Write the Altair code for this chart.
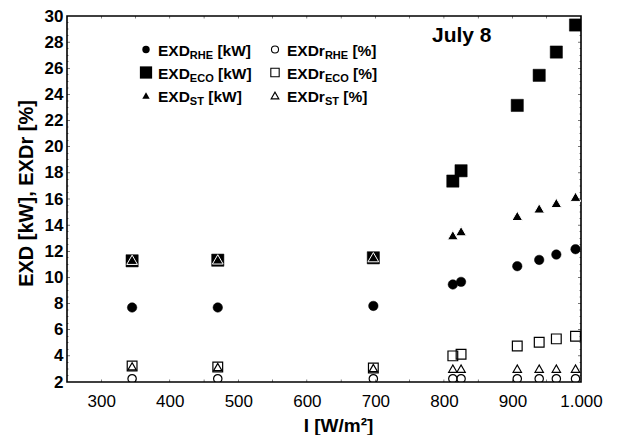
import altair as alt
import pandas as pd

# ---------------- data ----------------
irradiance = [345, 470, 697, 813, 825, 907, 939, 964, 992]
exd_rhe = [7.70, 7.70, 7.82, 9.46, 9.66, 10.86, 11.34, 11.75, 12.16]
exd_eco = [11.27, 11.32, 11.50, 17.37, 18.16, 23.16, 25.46, 27.24, 29.31]
exd_st = [11.35, 11.38, 11.55, 13.23, 13.54, 14.71, 15.28, 15.70, 16.17]
exdr_rhe = [2.25, 2.25, 2.25, 2.25, 2.25, 2.25, 2.25, 2.25, 2.25]
exdr_eco = [3.23, 3.15, 3.07, 4.00, 4.12, 4.76, 5.04, 5.30, 5.50]
exdr_st = [3.20, 3.15, 3.07, 3.02, 3.02, 3.02, 3.02, 3.02, 3.02]

x_major = [300, 400, 500, 600, 700, 800, 900, 1000]
x_ticks = [300, 350, 400, 450, 500, 550, 600, 650, 700, 750, 800, 850, 900, 950]
y_major = [4, 6, 8, 10, 12, 14, 16, 18, 20, 22, 24, 26, 28]
y_labels = [2, 4, 6, 8, 10, 12, 14, 16, 18, 20, 22, 24, 26, 28, 30]
y_minor = [v / 2 for v in range(5, 60) if v % 4 != 0]
x_range = [250, 1000]
y_range = [2, 30]

FONT = "Liberation Sans"
W, H = 514, 366

xscale = alt.Scale(domain=x_range, nice=False, zero=False)
yscale = alt.Scale(domain=y_range, nice=False, zero=False)

X_AXIS = alt.Axis(
    orient="bottom", values=x_major, ticks=False, domain=False, grid=False,
    labelExpr="datum.value == 1000 ? '1.000' : datum.label",
    labelFont=FONT, labelFontSize=17, labelColor="black", labelPadding=11,
    labelFlush=False,
    title="I  [W/m²]", titleFont=FONT, titleFontSize=19, titleFontWeight="bold",
    titleColor="black", titleX=271, titleY=49, titleBaseline="alphabetic",
    titleAlign="center",
)
Y_AXIS = alt.Axis(
    orient="left", values=y_labels, ticks=False, domain=False, grid=False,
    labelFont=FONT, labelFontSize=17, labelFontWeight="bold", labelColor="black",
    labelPadding=4, labelFlush=False,
    title="EXD [kW], EXDr [%]", titleFont=FONT, titleFontSize=20,
    titleFontWeight="bold", titleColor="black", titleAngle=-90,
    titleX=-35, titleY=177, titleBaseline="alphabetic", titleAlign="center",
)


def xenc(field):
    return alt.X(field, type="quantitative", scale=xscale, axis=X_AXIS)


def yenc(field):
    return alt.Y(field, type="quantitative", scale=yscale, axis=Y_AXIS)


def frame(xs, ys):
    return pd.DataFrame({"I": xs, "v": ys})


def series(vals, shape, filled, size, stroke="black", sw=1.2):
    return alt.Chart(frame(irradiance, vals)).mark_point(
        shape=shape, filled=filled, size=size, opacity=1,
        color="black", stroke=stroke, strokeWidth=sw, clip=True,
    ).encode(x=xenc("I"), y=yenc("v"))


# ---------------- inward tick marks: thin filled bars anchored on the frame ----------------
UP = "M-0.1,-1L0.1,-1L0.1,0L-0.1,0Z"      # grows upward from its anchor
DOWN = "M-0.1,0L0.1,0L0.1,1L-0.1,1Z"      # grows downward
RIGHT = "M0,-0.09L1,-0.09L1,0.09L0,0.09Z"  # grows rightward
LEFT = "M-1,-0.09L0,-0.09L0,0.09L-1,0.09Z" # grows leftward
RIGHT_S = "M0,-0.17L1,-0.17L1,0.17L0,0.17Z"
LEFT_S = "M-1,-0.17L0,-0.17L0,0.17L-1,0.17Z"


def tick_layer(xs, ys, path, length):
    return alt.Chart(frame(xs, ys)).mark_point(
        shape=path, filled=True, size=length * length, opacity=1,
        color="black", strokeWidth=0,
    ).encode(x=xenc("I"), y=yenc("v"))


tick_layers = [
    tick_layer(x_ticks, [y_range[0]] * len(x_ticks), UP, 5),
    tick_layer(x_ticks, [y_range[1]] * len(x_ticks), DOWN, 5),
    tick_layer([x_range[0]] * len(y_major), y_major, RIGHT, 6),
    tick_layer([x_range[1]] * len(y_major), y_major, LEFT, 6),
    tick_layer([x_range[0]] * len(y_minor), y_minor, RIGHT_S, 3),
    tick_layer([x_range[1]] * len(y_minor), y_minor, LEFT_S, 3),
]

# ---------------- data marks ----------------
marks = [
    series(exd_eco, "square", True, 150, stroke="black", sw=0.5),
    series(exd_st, "triangle-up", True, 115, stroke="white", sw=1),
    series(exd_rhe, "circle", True, 90, stroke="black", sw=0.5),
    series(exdr_eco, "square", False, 95),
    series(exdr_st, "triangle-up", False, 70),
    series(exdr_rhe, "circle", False, 70),
]

# ---------------- legend (drawn in the plot, with subscripts) ----------------
ADV = {'E': 667, 'X': 667, 'D': 722, 'r': 389, 'R': 722, 'H': 722, 'C': 722,
       'O': 778, 'S': 667, 'T': 611, ' ': 278, '[': 333, 'k': 556, 'W': 944,
       ']': 333, '%': 889}


def tw(s, fs):
    return sum(ADV[c] for c in s) * fs / 1000.0


legend_main = ["EXD", "EXD", "EXD", "EXDr", "EXDr", "EXDr"]
legend_sub = ["RHE", "ECO", "ST", "RHE", "ECO", "ST"]
legend_unit = ["[kW]", "[kW]", "[kW]", "[%]", "[%]", "[%]"]
legend_shape = ["circle", "square", "triangle-up", "circle", "square", "triangle-up"]
legend_filled = [True, True, True, False, False, False]
legend_size = [55, 150, 55, 50, 70, 60]

col_x = [79, 208]
row_base = [39.5, 62.5, 85.5]
one = pd.DataFrame({"a": [0]})
legend_layers = []
MF, SF = 15.5, 11
for i in range(6):
    c, r = i // 3, i % 3
    sx = col_x[c]
    by = row_base[r]
    legend_layers.append(
        alt.Chart(one).mark_point(
            shape=legend_shape[i], filled=legend_filled[i], size=legend_size[i],
            color="black", opacity=1, strokeWidth=1.1,
        ).encode(x=alt.value(sx), y=alt.value(by - 6))
    )
    tx = sx + 12
    pieces = [
        (legend_main[i], MF, 0, 0),
        (legend_sub[i], SF, 3.5, 0),
        (legend_unit[i], MF, 0, tw(" ", MF)),
    ]
    for txt, fs, dy, gap in pieces:
        tx += gap
        legend_layers.append(
            alt.Chart(one).mark_text(
                text=txt, align="left", baseline="alphabetic", font=FONT,
                fontSize=fs, fontWeight="bold", color="black",
            ).encode(x=alt.value(tx), y=alt.value(by + dy))
        )
        tx += tw(txt, fs)

date_label = alt.Chart(one).mark_text(
    text="July 8", align="left", baseline="alphabetic", font=FONT,
    fontSize=21, fontWeight="bold", color="black",
).encode(x=alt.value(365), y=alt.value(26))

chart = alt.layer(
    *marks, *tick_layers, *legend_layers, date_label,
).properties(
    width=W, height=H,
    autosize=alt.AutoSizeParams(type="none"),
    padding={"left": 59, "top": 8, "right": 30, "bottom": 53},
    background="white",
).configure_view(
    stroke="black", strokeWidth=1.6
)

chart.save("out.html", embed_options={"renderer": "svg", "actions": False})
